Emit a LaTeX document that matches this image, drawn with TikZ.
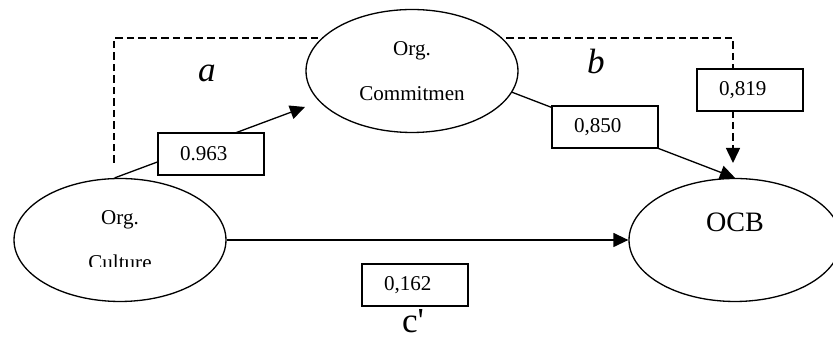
\documentclass[tikz,border=0pt]{standalone}
\usepackage{fontspec}
\setmainfont{Liberation Serif}
\usetikzlibrary{shapes.geometric,arrows.meta,positioning,backgrounds}

\begin{document}
\begin{tikzpicture}[x=0.02cm, y=-0.02cm, line width=0.75pt,
  latent/.style={draw, ellipse, fill=white, inner sep=0pt,
    minimum width=4.24cm, minimum height=2.46cm, align=center,
    font=\fontsize{12}{25.5}\selectfont},
  valbox/.style={draw, fill=white, text width=1.24cm, align=left,
    inner xsep=0.44cm, inner ysep=0pt, minimum height=0.84cm,
    font=\fontsize{12}{14}\selectfont},
  link/.style={-{Triangle[length=0.3cm,width=0.28cm]}}]
  \useasboundingbox (0,0) rectangle (833,340);

  % constructs
  \node[latent] (culture) at (120,240) {Org.\\Culture};
  \node[latent] (commit)  at (412,71)  {Org.\\Commitmen};
  \node[latent, font=\fontsize{16}{20.5}\selectfont]
    (ocb) at (735,240) {OCB\\\mbox{}};
  % cut-off text
  \fill[white] (70,267.5) rectangle (170,282);

  % dashed total effect
  \coordinate (dfrom) at (114,163);
  \coordinate (dto)   at (733,163);
  \begin{scope}[on background layer]
    \draw[link, line width=0.85pt, dash pattern=on 0.15cm off 0.08cm]
      (dfrom) -- ++(0,-125) -| (dto);
  \end{scope}

  % paths
  \coordinate (atip) at (305,107);
  \draw[link] (culture.95) -- (atip);
  \draw[link] (commit.348) -- (ocb.north);
  \draw[link] (culture.east) -- (ocb.west);

  % coefficients
  \node[valbox] (ca) at (211,154) {0.963};
  \node[valbox] (cb) at (605,127) {0,850};
  \node[valbox] (cd) at (750,90)  {0,819};
  \node[valbox] (cc) at (415,285) {0,162};

  % path labels
  \node[font=\fontsize{20}{24}\selectfont\itshape] (la) at (207,73) {a};
  \node[font=\fontsize{20}{24}\selectfont\itshape] (lb) at (596,61) {b};
  \node[font=\fontsize{20}{24}\selectfont] (lc) at (413,321) {c\textquotesingle};
\end{tikzpicture}
\end{document}
